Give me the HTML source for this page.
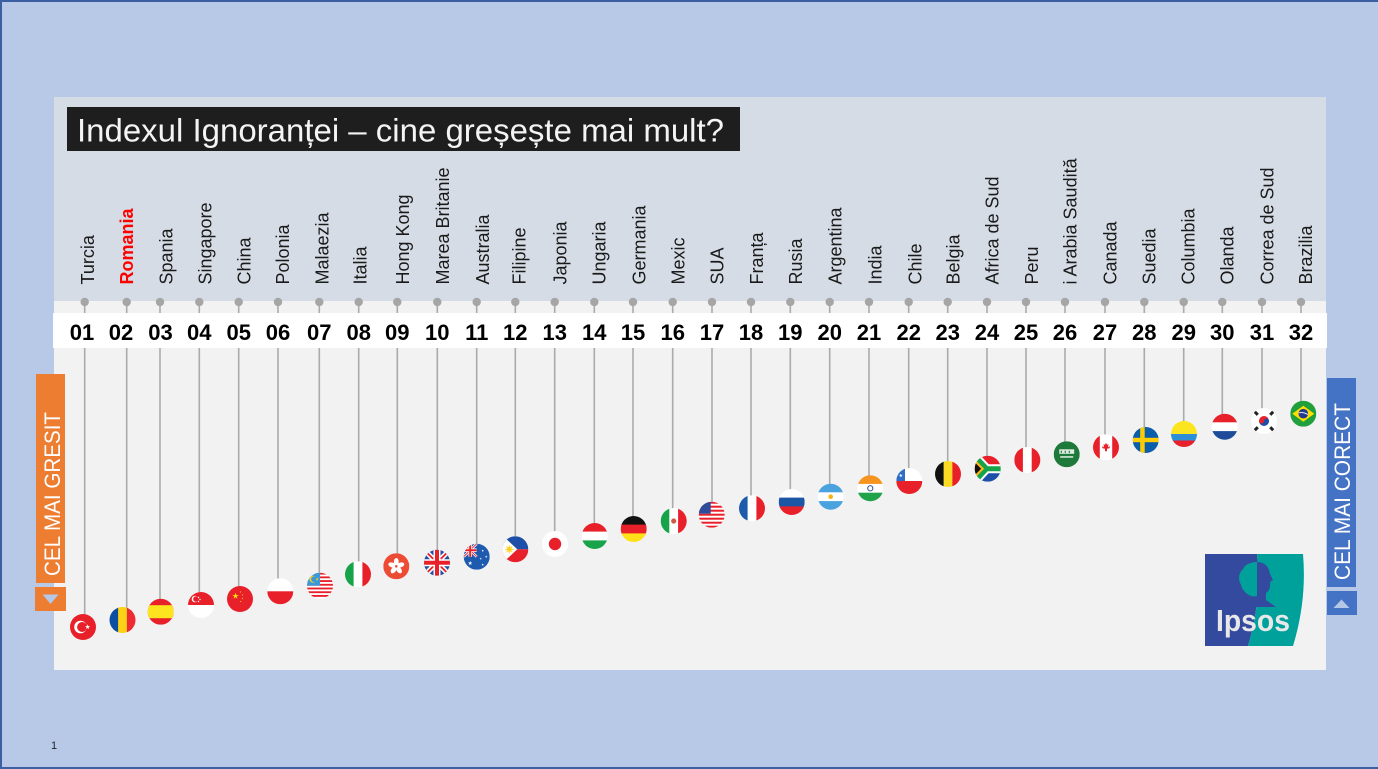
<!DOCTYPE html>
<html><head><meta charset="utf-8"><style>
html,body{margin:0;padding:0;width:1378px;height:769px;overflow:hidden;background:#B8C9E8}
svg{display:block}
text{font-family:"Liberation Sans",Arial,sans-serif}
</style></head><body>
<svg width="1378" height="769" viewBox="0 0 1378 769" xmlns="http://www.w3.org/2000/svg">
<defs>
<clipPath id="c"><circle r="13"/></clipPath>
<path id="st" d="M0,-1L0.225,-0.309L0.951,-0.309L0.363,0.118L0.588,0.809L0,0.382L-0.588,0.809L-0.363,0.118L-0.951,-0.309L-0.225,-0.309Z"/>
</defs>
<rect x="0" y="0" width="1378" height="769" fill="#B8C9E8"/>
<rect x="0" y="0" width="1378" height="2" fill="#3B5FA0"/>
<rect x="0" y="0" width="2" height="769" fill="#3B5FA0"/>
<rect x="0" y="767" width="1378" height="2" fill="#3B5FA0"/>
<!-- panel -->
<rect x="54" y="97" width="1272" height="204" fill="#D6DCE5"/>
<rect x="54" y="301" width="1272" height="369" fill="#F2F2F2"/>
<!-- title -->
<rect x="67" y="107" width="673" height="44" fill="#1E1E1E"/>
<text x="77" y="141.5" font-size="32" fill="#F4F4F4" textLength="647" lengthAdjust="spacingAndGlyphs">Indexul Ignoranței – cine greșește mai mult?</text>
<!-- lines -->
<g stroke="#ABABAB" stroke-width="1.6">
<line x1="84.7" y1="302" x2="84.7" y2="615"/>
<line x1="126.7" y1="302" x2="126.7" y2="608"/>
<line x1="160" y1="302" x2="160" y2="599"/>
<line x1="199.3" y1="302" x2="199.3" y2="593"/>
<line x1="238.7" y1="302" x2="238.7" y2="587"/>
<line x1="278" y1="302" x2="278" y2="579"/>
<line x1="319.3" y1="302" x2="319.3" y2="573"/>
<line x1="358.7" y1="302" x2="358.7" y2="562"/>
<line x1="397.3" y1="302" x2="397.3" y2="554"/>
<line x1="437.3" y1="302" x2="437.3" y2="550"/>
<line x1="476.7" y1="302" x2="476.7" y2="544"/>
<line x1="515.3" y1="302" x2="515.3" y2="537"/>
<line x1="554.7" y1="302" x2="554.7" y2="532"/>
<line x1="594.3" y1="302" x2="594.3" y2="524"/>
<line x1="633" y1="302" x2="633" y2="517"/>
<line x1="672.7" y1="302" x2="672.7" y2="509"/>
<line x1="712" y1="302" x2="712" y2="502"/>
<line x1="751" y1="302" x2="751" y2="496"/>
<line x1="790.3" y1="302" x2="790.3" y2="490"/>
<line x1="829.7" y1="302" x2="829.7" y2="484"/>
<line x1="869" y1="302" x2="869" y2="476"/>
<line x1="908.7" y1="302" x2="908.7" y2="469"/>
<line x1="947.7" y1="302" x2="947.7" y2="462"/>
<line x1="987" y1="302" x2="987" y2="456"/>
<line x1="1026" y1="302" x2="1026" y2="448"/>
<line x1="1065" y1="302" x2="1065" y2="442"/>
<line x1="1105" y1="302" x2="1105" y2="435"/>
<line x1="1144.3" y1="302" x2="1144.3" y2="428"/>
<line x1="1183.7" y1="302" x2="1183.7" y2="422"/>
<line x1="1222.3" y1="302" x2="1222.3" y2="414"/>
<line x1="1262" y1="302" x2="1262" y2="409"/>
<line x1="1301" y1="302" x2="1301" y2="401"/>
</g>
<g fill="#A6A6A6">
<circle cx="84.7" cy="302" r="4.2"/><circle cx="126.7" cy="302" r="4.2"/><circle cx="160" cy="302" r="4.2"/><circle cx="199.3" cy="302" r="4.2"/><circle cx="238.7" cy="302" r="4.2"/><circle cx="278" cy="302" r="4.2"/><circle cx="319.3" cy="302" r="4.2"/><circle cx="358.7" cy="302" r="4.2"/><circle cx="397.3" cy="302" r="4.2"/><circle cx="437.3" cy="302" r="4.2"/><circle cx="476.7" cy="302" r="4.2"/><circle cx="515.3" cy="302" r="4.2"/><circle cx="554.7" cy="302" r="4.2"/><circle cx="594.3" cy="302" r="4.2"/><circle cx="633" cy="302" r="4.2"/><circle cx="672.7" cy="302" r="4.2"/><circle cx="712" cy="302" r="4.2"/><circle cx="751" cy="302" r="4.2"/><circle cx="790.3" cy="302" r="4.2"/><circle cx="829.7" cy="302" r="4.2"/><circle cx="869" cy="302" r="4.2"/><circle cx="908.7" cy="302" r="4.2"/><circle cx="947.7" cy="302" r="4.2"/><circle cx="987" cy="302" r="4.2"/><circle cx="1026" cy="302" r="4.2"/><circle cx="1065" cy="302" r="4.2"/><circle cx="1105" cy="302" r="4.2"/><circle cx="1144.3" cy="302" r="4.2"/><circle cx="1183.7" cy="302" r="4.2"/><circle cx="1222.3" cy="302" r="4.2"/><circle cx="1262" cy="302" r="4.2"/><circle cx="1301" cy="302" r="4.2"/>
</g>
<!-- number strip -->
<rect x="53" y="313" width="1274" height="35" fill="#FFFFFF"/>
<g font-size="22" font-weight="bold" fill="#000" text-anchor="middle">
<text x="82" y="340">01</text><text x="121" y="340">02</text><text x="160.5" y="340">03</text><text x="199.3" y="340">04</text><text x="238.7" y="340">05</text><text x="278" y="340">06</text><text x="319.3" y="340">07</text><text x="358.7" y="340">08</text><text x="397.3" y="340">09</text><text x="437.3" y="340">10</text><text x="476.7" y="340">11</text><text x="515.3" y="340">12</text><text x="554.7" y="340">13</text><text x="594.3" y="340">14</text><text x="633" y="340">15</text><text x="672.7" y="340">16</text><text x="712" y="340">17</text><text x="751" y="340">18</text><text x="790.3" y="340">19</text><text x="829.7" y="340">20</text><text x="869" y="340">21</text><text x="908.7" y="340">22</text><text x="947.7" y="340">23</text><text x="987" y="340">24</text><text x="1026" y="340">25</text><text x="1065" y="340">26</text><text x="1105" y="340">27</text><text x="1144.3" y="340">28</text><text x="1183.7" y="340">29</text><text x="1222.3" y="340">30</text><text x="1262" y="340">31</text><text x="1301" y="340">32</text>
</g>
<!-- labels -->
<g font-size="18" fill="#1A1A1A">
<text transform="translate(94,284.5) rotate(-90)">Turcia</text>
<text transform="translate(133,284.5) rotate(-90)" fill="#FF0000" font-weight="bold">Romania</text>
<text transform="translate(172.3,284.5) rotate(-90)">Spania</text>
<text transform="translate(211.3,284.5) rotate(-90)">Singapore</text>
<text transform="translate(250.3,284.5) rotate(-90)">China</text>
<text transform="translate(289,284.5) rotate(-90)">Polonia</text>
<text transform="translate(328.3,284.5) rotate(-90)">Malaezia</text>
<text transform="translate(366.3,284.5) rotate(-90)">Italia</text>
<text transform="translate(409,284.5) rotate(-90)">Hong Kong</text>
<text transform="translate(449,284.5) rotate(-90)">Marea Britanie</text>
<text transform="translate(489,284.5) rotate(-90)">Australia</text>
<text transform="translate(525.7,284.5) rotate(-90)">Filipine</text>
<text transform="translate(566.3,284.5) rotate(-90)">Japonia</text>
<text transform="translate(605.7,284.5) rotate(-90)">Ungaria</text>
<text transform="translate(645.7,284.5) rotate(-90)">Germania</text>
<text transform="translate(684.7,284.5) rotate(-90)">Mexic</text>
<text transform="translate(723.7,284.5) rotate(-90)">SUA</text>
<text transform="translate(763,284.5) rotate(-90)">Franța</text>
<text transform="translate(802,284.5) rotate(-90)">Rusia</text>
<text transform="translate(841.3,284.5) rotate(-90)">Argentina</text>
<text transform="translate(881.3,284.5) rotate(-90)">India</text>
<text transform="translate(921.3,284.5) rotate(-90)">Chile</text>
<text transform="translate(959.7,284.5) rotate(-90)">Belgia</text>
<text transform="translate(998.7,284.5) rotate(-90)">Africa de Sud</text>
<text transform="translate(1038,284.5) rotate(-90)">Peru</text>
<text transform="translate(1076.3,284.5) rotate(-90)">i Arabia Saudită</text>
<text transform="translate(1116.3,284.5) rotate(-90)">Canada</text>
<text transform="translate(1155.3,284.5) rotate(-90)">Suedia</text>
<text transform="translate(1194.7,284.5) rotate(-90)">Columbia</text>
<text transform="translate(1233.7,284.5) rotate(-90)">Olanda</text>
<text transform="translate(1273.7,284.5) rotate(-90)">Correa de Sud</text>
<text transform="translate(1312,284.5) rotate(-90)">Brazilia</text>
</g>
<!-- flags -->
<g transform="translate(83,627)"><g clip-path="url(#c)"><rect x="-13" y="-13" width="26" height="26" fill="#E8202A"/><circle cx="-2.5" r="6.3" fill="#fff"/><circle cx="-0.9" r="5" fill="#E8202A"/><use href="#st" transform="translate(4.6,0) scale(2.7)" fill="#fff"/></g></g>
<g transform="translate(122.5,620)"><g clip-path="url(#c)"><rect x="-13" y="-13" width="9" height="26" fill="#0B4EA2"/><rect x="-4.4" y="-13" width="9" height="26" fill="#FCD116"/><rect x="4.4" y="-13" width="9" height="26" fill="#EE2A35"/></g></g>
<g transform="translate(160.7,611.7)"><g clip-path="url(#c)"><rect x="-13" y="-13" width="26" height="26" fill="#E8202A"/><rect x="-13" y="-6.5" width="26" height="13" fill="#FCE41E"/></g></g>
<g transform="translate(201,605)"><g clip-path="url(#c)"><rect x="-13" y="-13" width="26" height="26" fill="#fff"/><rect x="-13" y="-13" width="26" height="13" fill="#E8202A"/><circle cx="-6" cy="-6" r="3.3" fill="#fff"/><circle cx="-5" cy="-6" r="2.8" fill="#E8202A"/><circle cx="-2.5" cy="-7.5" r="0.7" fill="#fff"/><circle cx="-1" cy="-5.5" r="0.7" fill="#fff"/><circle cx="-2.5" cy="-3.5" r="0.7" fill="#fff"/></g></g>
<g transform="translate(240,599)"><g clip-path="url(#c)"><rect x="-13" y="-13" width="26" height="26" fill="#E8202A"/><use href="#st" transform="translate(-4.5,-3) scale(3.4)" fill="#FFDE00"/><use href="#st" transform="translate(0.5,-7) scale(1)" fill="#FFDE00"/><use href="#st" transform="translate(2.5,-4) scale(1)" fill="#FFDE00"/><use href="#st" transform="translate(2.5,-0.5) scale(1)" fill="#FFDE00"/><use href="#st" transform="translate(0.5,2.5) scale(1)" fill="#FFDE00"/></g></g>
<g transform="translate(280.3,591.3)"><g clip-path="url(#c)"><rect x="-13" y="-13" width="26" height="26" fill="#fff"/><rect x="-13" y="0" width="26" height="13" fill="#E8202A"/></g></g>
<g transform="translate(320,585.7)"><g clip-path="url(#c)"><rect x="-13" y="-13" width="26" height="26" fill="#fff"/><g fill="#E8202A"><rect x="-13" y="-13" width="26" height="1.86"/><rect x="-13" y="-9.29" width="26" height="1.86"/><rect x="-13" y="-5.57" width="26" height="1.86"/><rect x="-13" y="-1.86" width="26" height="1.86"/><rect x="-13" y="1.86" width="26" height="1.86"/><rect x="-13" y="5.57" width="26" height="1.86"/><rect x="-13" y="9.29" width="26" height="1.86"/></g><rect x="-13" y="-13" width="13" height="13" fill="#3A9AD9"/><circle cx="-7" cy="-6.5" r="3.5" fill="#FCD116"/><circle cx="-6" cy="-6.5" r="2.9" fill="#3A9AD9"/><use href="#st" transform="translate(-2.8,-6.5) scale(1.7)" fill="#FCD116"/></g></g>
<g transform="translate(358,574.3)"><g clip-path="url(#c)"><rect x="-13" y="-13" width="9" height="26" fill="#17A34A"/><rect x="-4.4" y="-13" width="9" height="26" fill="#fff"/><rect x="4.4" y="-13" width="9" height="26" fill="#E8202A"/></g></g>
<g transform="translate(396.3,566.3)"><g clip-path="url(#c)"><rect x="-13" y="-13" width="26" height="26" fill="#EE4B35"/><g fill="#fff"><ellipse cx="0" cy="-4.5" rx="2.4" ry="3.8"/><ellipse cx="0" cy="-4.5" rx="2.4" ry="3.8" transform="rotate(72)"/><ellipse cx="0" cy="-4.5" rx="2.4" ry="3.8" transform="rotate(144)"/><ellipse cx="0" cy="-4.5" rx="2.4" ry="3.8" transform="rotate(216)"/><ellipse cx="0" cy="-4.5" rx="2.4" ry="3.8" transform="rotate(288)"/></g><circle r="1.3" fill="#EE4B35"/></g></g>
<g transform="translate(437,562.7)"><g clip-path="url(#c)"><rect x="-13" y="-13" width="26" height="26" fill="#1F4FA0"/><path d="M-13,-13L13,13M13,-13L-13,13" stroke="#fff" stroke-width="5"/><path d="M-13,-13L13,13M13,-13L-13,13" stroke="#E8202A" stroke-width="1.8"/><path d="M0,-13V13M-13,0H13" stroke="#fff" stroke-width="7"/><path d="M0,-13V13M-13,0H13" stroke="#E8202A" stroke-width="4"/></g></g>
<g transform="translate(476.7,556.7)"><g clip-path="url(#c)"><rect x="-13" y="-13" width="26" height="26" fill="#1E5AAE"/><g transform="translate(-6.5,-6.5) scale(0.5)"><path d="M-13,-13L13,13M13,-13L-13,13" stroke="#fff" stroke-width="5"/><path d="M-13,-13L13,13M13,-13L-13,13" stroke="#E8202A" stroke-width="1.8"/><path d="M0,-13V13M-13,0H13" stroke="#fff" stroke-width="7"/><path d="M0,-13V13M-13,0H13" stroke="#E8202A" stroke-width="4"/></g><g fill="#fff"><use href="#st" transform="translate(-6.5,6.5) scale(2.3)"/><use href="#st" transform="translate(6,-6) scale(1.3)"/><use href="#st" transform="translate(9.5,0) scale(1.3)"/><use href="#st" transform="translate(4,2) scale(1.2)"/><use href="#st" transform="translate(6,8) scale(1.3)"/></g></g></g>
<g transform="translate(515.3,549.3)"><g clip-path="url(#c)"><rect x="-13" y="-13" width="26" height="13" fill="#1E4FA8"/><rect x="-13" y="0" width="26" height="13" fill="#E8202A"/><polygon points="-13,-14 2,0 -13,14" fill="#fff"/><circle cx="-6" cy="0" r="2.3" fill="#FCD116"/><path d="M-6,-4V4M-10,0H-2M-8.8,-2.8L-3.2,2.8M-8.8,2.8L-3.2,-2.8" stroke="#FCD116" stroke-width="0.9"/></g></g>
<g transform="translate(555,544)"><g clip-path="url(#c)"><rect x="-13" y="-13" width="26" height="26" fill="#fff"/><circle r="6.2" fill="#E8202A"/></g></g>
<g transform="translate(594.7,536)"><g clip-path="url(#c)"><rect x="-13" y="-13" width="26" height="9" fill="#E8202A"/><rect x="-13" y="-4.4" width="26" height="9" fill="#fff"/><rect x="-13" y="4.4" width="26" height="9" fill="#17A34A"/></g></g>
<g transform="translate(633.7,529)"><g clip-path="url(#c)"><rect x="-13" y="-13" width="26" height="9" fill="#111"/><rect x="-13" y="-4.4" width="26" height="9" fill="#E8202A"/><rect x="-13" y="4.4" width="26" height="9" fill="#FFE11A"/></g></g>
<g transform="translate(673.7,521)"><g clip-path="url(#c)"><rect x="-13" y="-13" width="9" height="26" fill="#17A34A"/><rect x="-4.4" y="-13" width="9" height="26" fill="#fff"/><rect x="4.4" y="-13" width="9" height="26" fill="#E8202A"/><circle r="2.6" fill="#D05A4A"/></g></g>
<g transform="translate(711.7,514.7)"><g clip-path="url(#c)"><rect x="-13" y="-13" width="26" height="26" fill="#fff"/><g fill="#E8202A"><rect x="-13" y="-13" width="26" height="2"/><rect x="-13" y="-9" width="26" height="2"/><rect x="-13" y="-5" width="26" height="2"/><rect x="-13" y="-1" width="26" height="2"/><rect x="-13" y="3" width="26" height="2"/><rect x="-13" y="7" width="26" height="2"/><rect x="-13" y="11" width="26" height="2"/></g><rect x="-13" y="-13" width="12" height="12" fill="#2E4C9A"/></g></g>
<g transform="translate(752,508.3)"><g clip-path="url(#c)"><rect x="-13" y="-13" width="9" height="26" fill="#1E5BAA"/><rect x="-4.4" y="-13" width="9" height="26" fill="#fff"/><rect x="4.4" y="-13" width="9" height="26" fill="#E8202A"/></g></g>
<g transform="translate(791.7,502)"><g clip-path="url(#c)"><rect x="-13" y="-13" width="26" height="9" fill="#fff"/><rect x="-13" y="-4.4" width="26" height="9" fill="#1C57A5"/><rect x="-13" y="4.4" width="26" height="9" fill="#E8202A"/></g></g>
<g transform="translate(830.7,496.7)"><g clip-path="url(#c)"><rect x="-13" y="-13" width="26" height="9" fill="#4AA3DF"/><rect x="-13" y="-4.4" width="26" height="9" fill="#fff"/><rect x="-13" y="4.4" width="26" height="9" fill="#4AA3DF"/><circle r="2.3" fill="#F6B40E"/></g></g>
<g transform="translate(870.3,488.3)"><g clip-path="url(#c)"><rect x="-13" y="-13" width="26" height="9" fill="#F7941D"/><rect x="-13" y="-4.4" width="26" height="9" fill="#fff"/><rect x="-13" y="4.4" width="26" height="9" fill="#21A34A"/><circle r="2.6" fill="none" stroke="#1B3C8C" stroke-width="0.9"/></g></g>
<g transform="translate(909.3,481)"><g clip-path="url(#c)"><rect x="-13" y="-13" width="26" height="13" fill="#fff"/><rect x="-13" y="0" width="26" height="13" fill="#E8202A"/><rect x="-13" y="-13" width="8.7" height="13" fill="#2E6EC4"/><use href="#st" transform="translate(-8.5,-5.5) scale(2)" fill="#fff"/></g></g>
<g transform="translate(948,474)"><g clip-path="url(#c)"><rect x="-13" y="-13" width="9" height="26" fill="#111"/><rect x="-4.4" y="-13" width="9" height="26" fill="#FDDA24"/><rect x="4.4" y="-13" width="9" height="26" fill="#E8202A"/></g></g>
<g transform="translate(987.7,468.7)"><g clip-path="url(#c)"><rect x="-13" y="-13" width="26" height="13" fill="#E8202A"/><rect x="-13" y="0" width="26" height="13" fill="#1E4FA8"/><path d="M-15,-15L-1,0L15,0M-15,15L-1,0" stroke="#fff" stroke-width="9" fill="none"/><path d="M-15,-15L-1,0L15,0M-15,15L-1,0" stroke="#17A34A" stroke-width="5" fill="none"/><polygon points="-13,-9.5 -3.5,0 -13,9.5" fill="#FFB81C"/><polygon points="-13,-6.5 -6.5,0 -13,6.5" fill="#111"/></g></g>
<g transform="translate(1027.3,460)"><g clip-path="url(#c)"><rect x="-13" y="-13" width="9" height="26" fill="#E8202A"/><rect x="-4.4" y="-13" width="9" height="26" fill="#fff"/><rect x="4.4" y="-13" width="9" height="26" fill="#E8202A"/></g></g>
<g transform="translate(1066.7,454.3)"><g clip-path="url(#c)"><rect x="-13" y="-13" width="26" height="26" fill="#1D7A3A"/><rect x="-7.5" y="-5" width="15" height="4.5" fill="#fff" opacity="0.85"/><rect x="-6" y="-3.5" width="1.2" height="2" fill="#1D7A3A"/><rect x="-2" y="-3.5" width="1.2" height="2" fill="#1D7A3A"/><rect x="2" y="-3.5" width="1.2" height="2" fill="#1D7A3A"/><rect x="-6.5" y="2" width="13" height="1.3" fill="#fff"/></g></g>
<g transform="translate(1106,447.3)"><g clip-path="url(#c)"><rect x="-13" y="-13" width="26" height="26" fill="#fff"/><rect x="-13" y="-13" width="6.8" height="26" fill="#E8202A"/><rect x="6.2" y="-13" width="6.8" height="26" fill="#E8202A"/><path d="M0,-4.5L1,-2.5L2.5,-3L2,0L4,-1L3.5,1L1,1.5L1,4L-1,4L-1,1.5L-3.5,1L-4,-1L-2,0L-2.5,-3L-1,-2.5Z" fill="#E8202A"/></g></g>
<g transform="translate(1145.7,440)"><g clip-path="url(#c)"><rect x="-13" y="-13" width="26" height="26" fill="#0A5EAA"/><rect x="-5.5" y="-13" width="4.5" height="26" fill="#FECC02"/><rect x="-13" y="-2.2" width="26" height="4.4" fill="#FECC02"/></g></g>
<g transform="translate(1184,434)"><g clip-path="url(#c)"><rect x="-13" y="-13" width="26" height="13.2" fill="#FCE41E"/><rect x="-13" y="0" width="26" height="6.7" fill="#2D8FD5"/><rect x="-13" y="6.5" width="26" height="6.5" fill="#E8202A"/></g></g>
<g transform="translate(1224.7,426.7)"><g clip-path="url(#c)"><rect x="-13" y="-13" width="26" height="9" fill="#E8202A"/><rect x="-13" y="-4.4" width="26" height="9" fill="#fff"/><rect x="-13" y="4.4" width="26" height="9" fill="#1F4C9A"/></g></g>
<g transform="translate(1264,421)"><g clip-path="url(#c)"><rect x="-13" y="-13" width="26" height="26" fill="#fff"/><path d="M-5,0A5,5 0 0 1 5,0Z" fill="#E8202A"/><path d="M5,0A5,5 0 0 1 -5,0Z" fill="#1E4FA8"/><circle cx="-2.5" r="2.5" fill="#E8202A"/><circle cx="2.5" r="2.5" fill="#1E4FA8"/><g fill="#222"><rect x="-10.5" y="-9.5" width="5" height="3" transform="rotate(45 -8 -8)"/><rect x="5.5" y="-9.5" width="5" height="3" transform="rotate(-45 8 -8)"/><rect x="-10.5" y="6.5" width="5" height="3" transform="rotate(-45 -8 8)"/><rect x="5.5" y="6.5" width="5" height="3" transform="rotate(45 8 8)"/></g></g></g>
<g transform="translate(1303.3,413.7)"><g clip-path="url(#c)"><rect x="-13" y="-13" width="26" height="26" fill="#1FA03C"/><polygon points="-11,0 0,-8 11,0 0,8" fill="#FEDF00"/><circle r="4.8" fill="#233B8E"/><path d="M-4.6,-0.8Q0,-2 4.6,0.8" stroke="#fff" stroke-width="0.8" fill="none"/></g></g>
<!-- left banner -->
<rect x="36" y="374" width="29" height="209" fill="#ED7D31"/>
<text transform="translate(60,576) rotate(-90)" font-size="22" fill="#fff" textLength="164" lengthAdjust="spacingAndGlyphs">CEL MAI GRESIT</text>
<rect x="35" y="587" width="31" height="24" fill="#ED7D31"/>
<polygon points="42.5,594.5 58.5,594.5 50.5,604" fill="#B4C7E7"/>
<!-- right banner -->
<rect x="1327" y="378" width="29" height="209" fill="#4472C4"/>
<text transform="translate(1350,580) rotate(-90)" font-size="22" fill="#fff" textLength="177" lengthAdjust="spacingAndGlyphs">CEL MAI CORECT</text>
<rect x="1327" y="591" width="30" height="24" fill="#4472C4"/>
<polygon points="1333.5,608 1349.5,608 1341.5,599.5" fill="#B4C7E7"/>
<!-- Ipsos logo -->
<path d="M1205,554L1257,554Q1262,600 1248,646L1205,646Z" fill="#344A9F"/>
<path d="M1257,554L1303,554Q1307,600 1293,646L1248,646Q1262,600 1257,554Z" fill="#00A19B"/>
<circle cx="1251" cy="578" r="12" fill="#00A19B"/>
<path d="M1257,562Q1268,562 1270,574L1273,580L1270,582Q1271,590 1266,593L1266,600L1276,607L1240,607L1250,600L1257,595Z" fill="#344A9F"/>
<path d="M1257,562L1257,596Q1248,598 1242,588Q1238,576 1245,566Q1250,562 1257,562Z" fill="#00A19B"/>
<text x="1216" y="631" font-size="31" font-weight="bold" fill="#E8E8E8" textLength="74" lengthAdjust="spacingAndGlyphs">Ipsos</text>
<!-- page number -->
<text x="51" y="749" font-size="11" fill="#222">1</text>
</svg>
</body></html>
